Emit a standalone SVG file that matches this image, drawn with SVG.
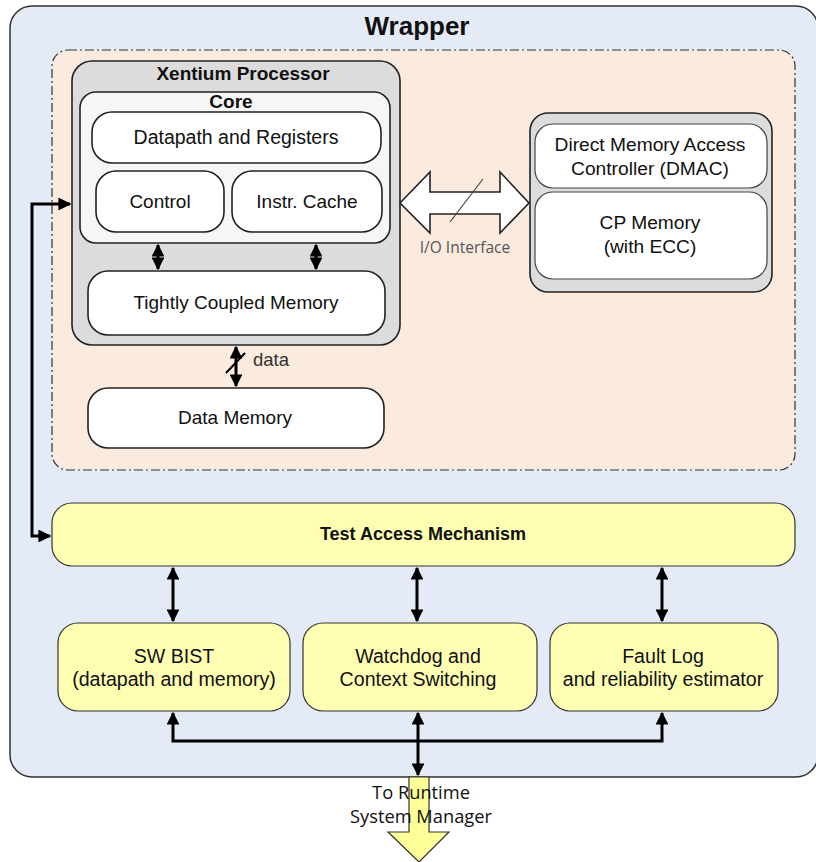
<svg xmlns="http://www.w3.org/2000/svg" width="816" height="862" viewBox="0 0 816 862">
<defs>
<marker id="ah" viewBox="0 0 10 10" refX="9" refY="5" markerWidth="4.3" markerHeight="4.3" orient="auto-start-reverse" markerUnits="strokeWidth">
<path d="M0,0 L10,5 L0,10 z" fill="#000"/>
</marker>
<style>
.t{font-family:"Liberation Sans",Arial,sans-serif;text-anchor:middle;fill:#111}
.b{font-weight:bold}
.box{stroke:#222;stroke-width:1.6}
.w{fill:#fff}
.y{fill:#ffffb4;stroke:#333;stroke-width:1.2}
.c{fill:none;stroke:#000;stroke-width:3}
.cal{font-family:"Open Sans","Liberation Sans",sans-serif;text-anchor:middle;fill:#111}
</style>
</defs>
<rect width="816" height="862" fill="#fff"/>
<g id="wrapper">
<rect x="10" y="6" width="808" height="771" rx="22" fill="#e4eaf6" stroke="#333" stroke-width="1.5"/>
<text class="t b" x="417" y="35" font-size="26">Wrapper</text>
</g>
<g id="region">
<rect x="52" y="50" width="743" height="420" rx="16" fill="#fbeade" stroke="#333" stroke-width="1.2" stroke-dasharray="9,3,2,3"/>
</g>
<g id="xentium">
<rect class="box" x="72" y="61" width="328" height="284" rx="20" fill="#dcdcdc"/>
<text class="t b" x="243" y="80" font-size="19">Xentium Processor</text>
</g>
<g id="core">
<rect class="box" x="80" y="92" width="310" height="151" rx="16" fill="#f6f6f6"/>
<text class="t b" x="231" y="108" font-size="19">Core</text>
</g>
<g id="datapath">
<rect class="box w" x="92" y="112" width="289" height="51" rx="20"/>
<text class="t" x="236" y="144" font-size="19.5">Datapath and Registers</text>
</g>
<g id="control">
<rect class="box w" x="96" y="171" width="128" height="61" rx="20"/>
<text class="t" x="160" y="208" font-size="19">Control</text>
</g>
<g id="icache">
<rect class="box w" x="232" y="171" width="150" height="61" rx="20"/>
<text class="t" x="307" y="208" font-size="19">Instr. Cache</text>
</g>
<g id="tcm">
<rect class="box w" x="88" y="271" width="297" height="64" rx="20"/>
<text class="t" x="236" y="309" font-size="19">Tightly Coupled Memory</text>
</g>
<g id="datamem">
<rect class="box w" x="88" y="388" width="296" height="60" rx="20"/>
<text class="t" x="235" y="424" font-size="19">Data Memory</text>
</g>
<g id="cpblock">
<rect class="box" x="530" y="113" width="242" height="179" rx="18" fill="#dcdcdc"/>
</g>
<g id="dmac">
<rect x="535" y="124" width="232" height="64" rx="18" fill="#fff" stroke="#444" stroke-width="1.2"/>
<text class="t" x="650" y="151" font-size="19.2">Direct Memory Access</text>
<text class="t" x="650" y="175" font-size="19.2">Controller (DMAC)</text>
</g>
<g id="cpmem">
<rect x="535" y="192" width="232" height="87" rx="18" fill="#fff" stroke="#444" stroke-width="1.2"/>
<text class="t" x="650" y="229" font-size="19.2">CP Memory</text>
<text class="t" x="650" y="253" font-size="19.2">(with ECC)</text>
</g>
<g id="tam">
<rect class="y" x="52" y="503" width="743" height="63" rx="20"/>
<text class="t b" x="423" y="540" font-size="18">Test Access Mechanism</text>
</g>
<g id="swbist">
<rect class="y" x="58" y="623" width="232" height="88" rx="20"/>
<text class="t" x="174" y="663" font-size="19.6">SW BIST</text>
<text class="t" x="174" y="686" font-size="19.6">(datapath and memory)</text>
</g>
<g id="watchdog">
<rect class="y" x="303" y="623" width="234" height="88" rx="20"/>
<text class="t" x="418" y="663" font-size="19.6">Watchdog and</text>
<text class="t" x="418" y="686" font-size="19.6">Context Switching</text>
</g>
<g id="faultlog">
<rect class="y" x="550" y="623" width="228" height="88" rx="20"/>
<text class="t" x="663" y="663" font-size="19.6">Fault Log</text>
<text class="t" x="663" y="686" font-size="19.6">and reliability estimator</text>
</g>
<g id="connectors">
<polygon points="400,203 430,172 430,192 500,192 500,172 529,203 500,233 500,214 430,214 430,233" fill="#fff" stroke="#222" stroke-width="1.6"/>
<line x1="450" y1="222" x2="483" y2="179" stroke="#444" stroke-width="1.2"/>
<text class="cal" x="465" y="253" font-size="15.5" style="fill:#555">I/O Interface</text>
<line class="c" x1="158" y1="245" x2="158" y2="269" marker-start="url(#ah)" marker-end="url(#ah)"/>
<line class="c" x1="316" y1="245" x2="316" y2="269" marker-start="url(#ah)" marker-end="url(#ah)"/>
<line class="c" x1="236" y1="347" x2="236" y2="386" marker-start="url(#ah)" marker-end="url(#ah)"/>
<line x1="226" y1="373" x2="245" y2="353" stroke="#000" stroke-width="2"/>
<text x="253" y="366" font-size="18.5" style="font-family:'Liberation Sans',sans-serif;fill:#333">data</text>
<polyline class="c" points="70,204 32,204 32,536 50,536" marker-start="url(#ah)" marker-end="url(#ah)"/>
<line class="c" x1="173" y1="568" x2="173" y2="621" marker-start="url(#ah)" marker-end="url(#ah)"/>
<line class="c" x1="417" y1="568" x2="417" y2="621" marker-start="url(#ah)" marker-end="url(#ah)"/>
<line class="c" x1="662" y1="568" x2="662" y2="621" marker-start="url(#ah)" marker-end="url(#ah)"/>
<polyline class="c" points="173,713 173,741 662,741 662,713" marker-start="url(#ah)" marker-end="url(#ah)"/>
<line class="c" x1="418" y1="713" x2="418" y2="775" marker-start="url(#ah)" marker-end="url(#ah)"/>
<polygon points="409,777 429,777 429,832 449,832 419,862 388,832 409,832" fill="#ffff99" stroke="#333" stroke-width="1.2"/>
<text class="cal" x="421" y="799" font-size="18.3">To Runtime</text>
<text class="cal" x="421" y="823" font-size="18.3">System Manager</text>
</g>
</svg>
